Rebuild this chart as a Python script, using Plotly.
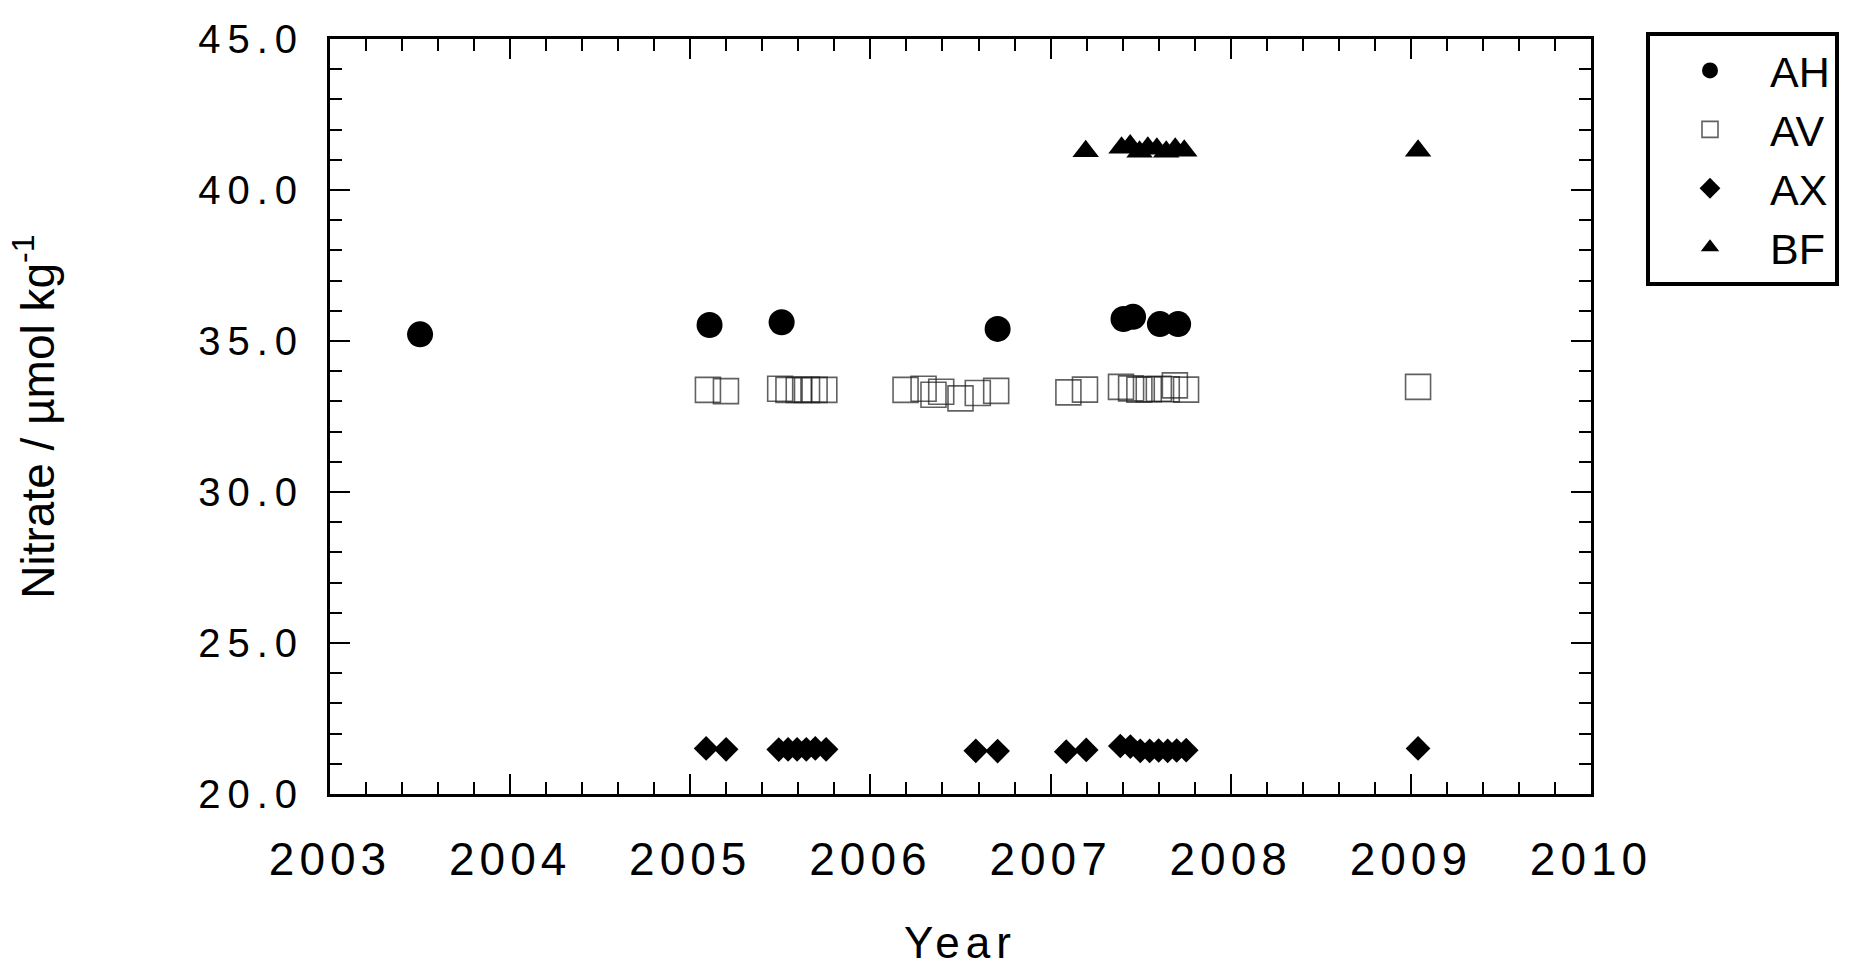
import plotly.graph_objects as go

# ---- data ----
ah_year = [2003.50, 2005.107, 2005.507, 2006.706, 2007.405, 2007.458, 2007.607, 2007.708]
ah_val = [35.22, 35.53, 35.62, 35.40, 35.73, 35.80, 35.56, 35.56]

av_year = [2005.098, 2005.198, 2005.499, 2005.545, 2005.602, 2005.648, 2005.690, 2005.744,
           2006.195, 2006.295, 2006.350, 2006.393, 2006.500, 2006.596, 2006.698,
           2007.099, 2007.191, 2007.391, 2007.447, 2007.493, 2007.545, 2007.601,
           2007.645, 2007.690, 2007.752, 2009.040]
av_val = [33.38, 33.34, 33.42, 33.38, 33.38, 33.38, 33.38, 33.38,
          33.38, 33.42, 33.22, 33.32, 33.10, 33.28, 33.35,
          33.30, 33.39, 33.48, 33.43, 33.39, 33.40, 33.42,
          33.40, 33.53, 33.39, 33.48]

ax_year = [2005.088, 2005.199, 2005.491, 2005.543, 2005.593, 2005.644, 2005.694, 2005.754,
           2006.585, 2006.706, 2007.087, 2007.198, 2007.387, 2007.443, 2007.498,
           2007.550, 2007.600, 2007.650, 2007.700, 2007.753, 2009.040]
ax_val = [21.51, 21.48, 21.47, 21.48, 21.48, 21.48, 21.51, 21.48,
          21.43, 21.42, 21.40, 21.46, 21.59, 21.57, 21.43,
          21.43, 21.44, 21.43, 21.44, 21.45, 21.51]

bf_year = [2007.195, 2007.394, 2007.442, 2007.494, 2007.540, 2007.590, 2007.642,
           2007.692, 2007.742, 2009.040]
bf_val = [41.28, 41.40, 41.47, 41.27, 41.40, 41.37, 41.27, 41.37, 41.30, 41.30]

x_ticks = [2003, 2004, 2005, 2006, 2007, 2008, 2009, 2010]
y_ticks = [20.0, 25.0, 30.0, 35.0, 40.0, 45.0]

FONT = "Liberation Sans, Arial, sans-serif"

fig = go.Figure()
fig.add_trace(go.Scatter(x=ah_year, y=ah_val, mode="markers", name="AH",
                         marker=dict(symbol="circle", size=26, color="black",
                                     line=dict(width=0))))
fig.add_trace(go.Scatter(x=av_year, y=av_val, mode="markers", name="AV",
                         marker=dict(symbol="square-open", size=25,
                                     color="rgba(30,30,30,0.7)",
                                     line=dict(width=1.6))))
fig.add_trace(go.Scatter(x=ax_year, y=ax_val, mode="markers", name="AX",
                         marker=dict(symbol="diamond", size=19, color="black",
                                     line=dict(width=0))))
fig.add_trace(go.Scatter(x=bf_year, y=bf_val, mode="markers", name="BF",
                         marker=dict(symbol="triangle-up", size=23, color="black",
                                     line=dict(width=0))))

L, R, T, B = 330, 1591, 39, 794
W, H = 1873, 967

axis_common = dict(
    showline=True, linecolor="black", linewidth=3, mirror="ticks",
    ticks="inside", tickcolor="black", tickwidth=2, ticklen=20,
    showgrid=False, zeroline=False,
)

fig.update_xaxes(
    range=[2003, 2010], tickvals=x_ticks, tickformat="d",
    minor=dict(dtick=0.2, ticks="inside", ticklen=12, tickwidth=2,
               tickcolor="black", showgrid=False),
    tickfont=dict(family=FONT, size=46, color="black"),
    ticklabelstandoff=23,
    title=dict(text="Year", font=dict(family=FONT, size=44, color="black"),
               standoff=74),
    **axis_common,
)
fig.update_yaxes(
    range=[20, 45], tickvals=y_ticks, tickformat=".1f",
    minor=dict(dtick=1, ticks="inside", ticklen=12, tickwidth=2,
               tickcolor="black", showgrid=False),
    tickfont=dict(family=FONT, size=40, color="black"),
    ticklabelstandoff=15,
    title=dict(text="Nitrate / µmol kg<sup>-1</sup>",
               font=dict(family=FONT, size=46, color="black"), standoff=158),
    **axis_common,
)

fig.update_layout(
    width=W, height=H,
    margin=dict(l=L, r=W - R, t=T, b=H - B, autoexpand=False),
    paper_bgcolor="white", plot_bgcolor="white",
    showlegend=True,
    legend=dict(
        x=(1646 - L) / (R - L), y=(B - 32) / (B - T),
        xanchor="left", yanchor="top",
        bgcolor="white", bordercolor="black", borderwidth=4,
        font=dict(family=FONT, size=43, color="black"),
        itemwidth=110, tracegroupgap=0,
    ),
)

post = """
var st = document.createElement('style');
st.innerHTML = '.xtick text{letter-spacing:5px;} .ytick text{letter-spacing:7px;} .g-xtitle text{letter-spacing:6px;}';
document.head.appendChild(st);
"""

fig.write_html("out.html", post_script=post)
